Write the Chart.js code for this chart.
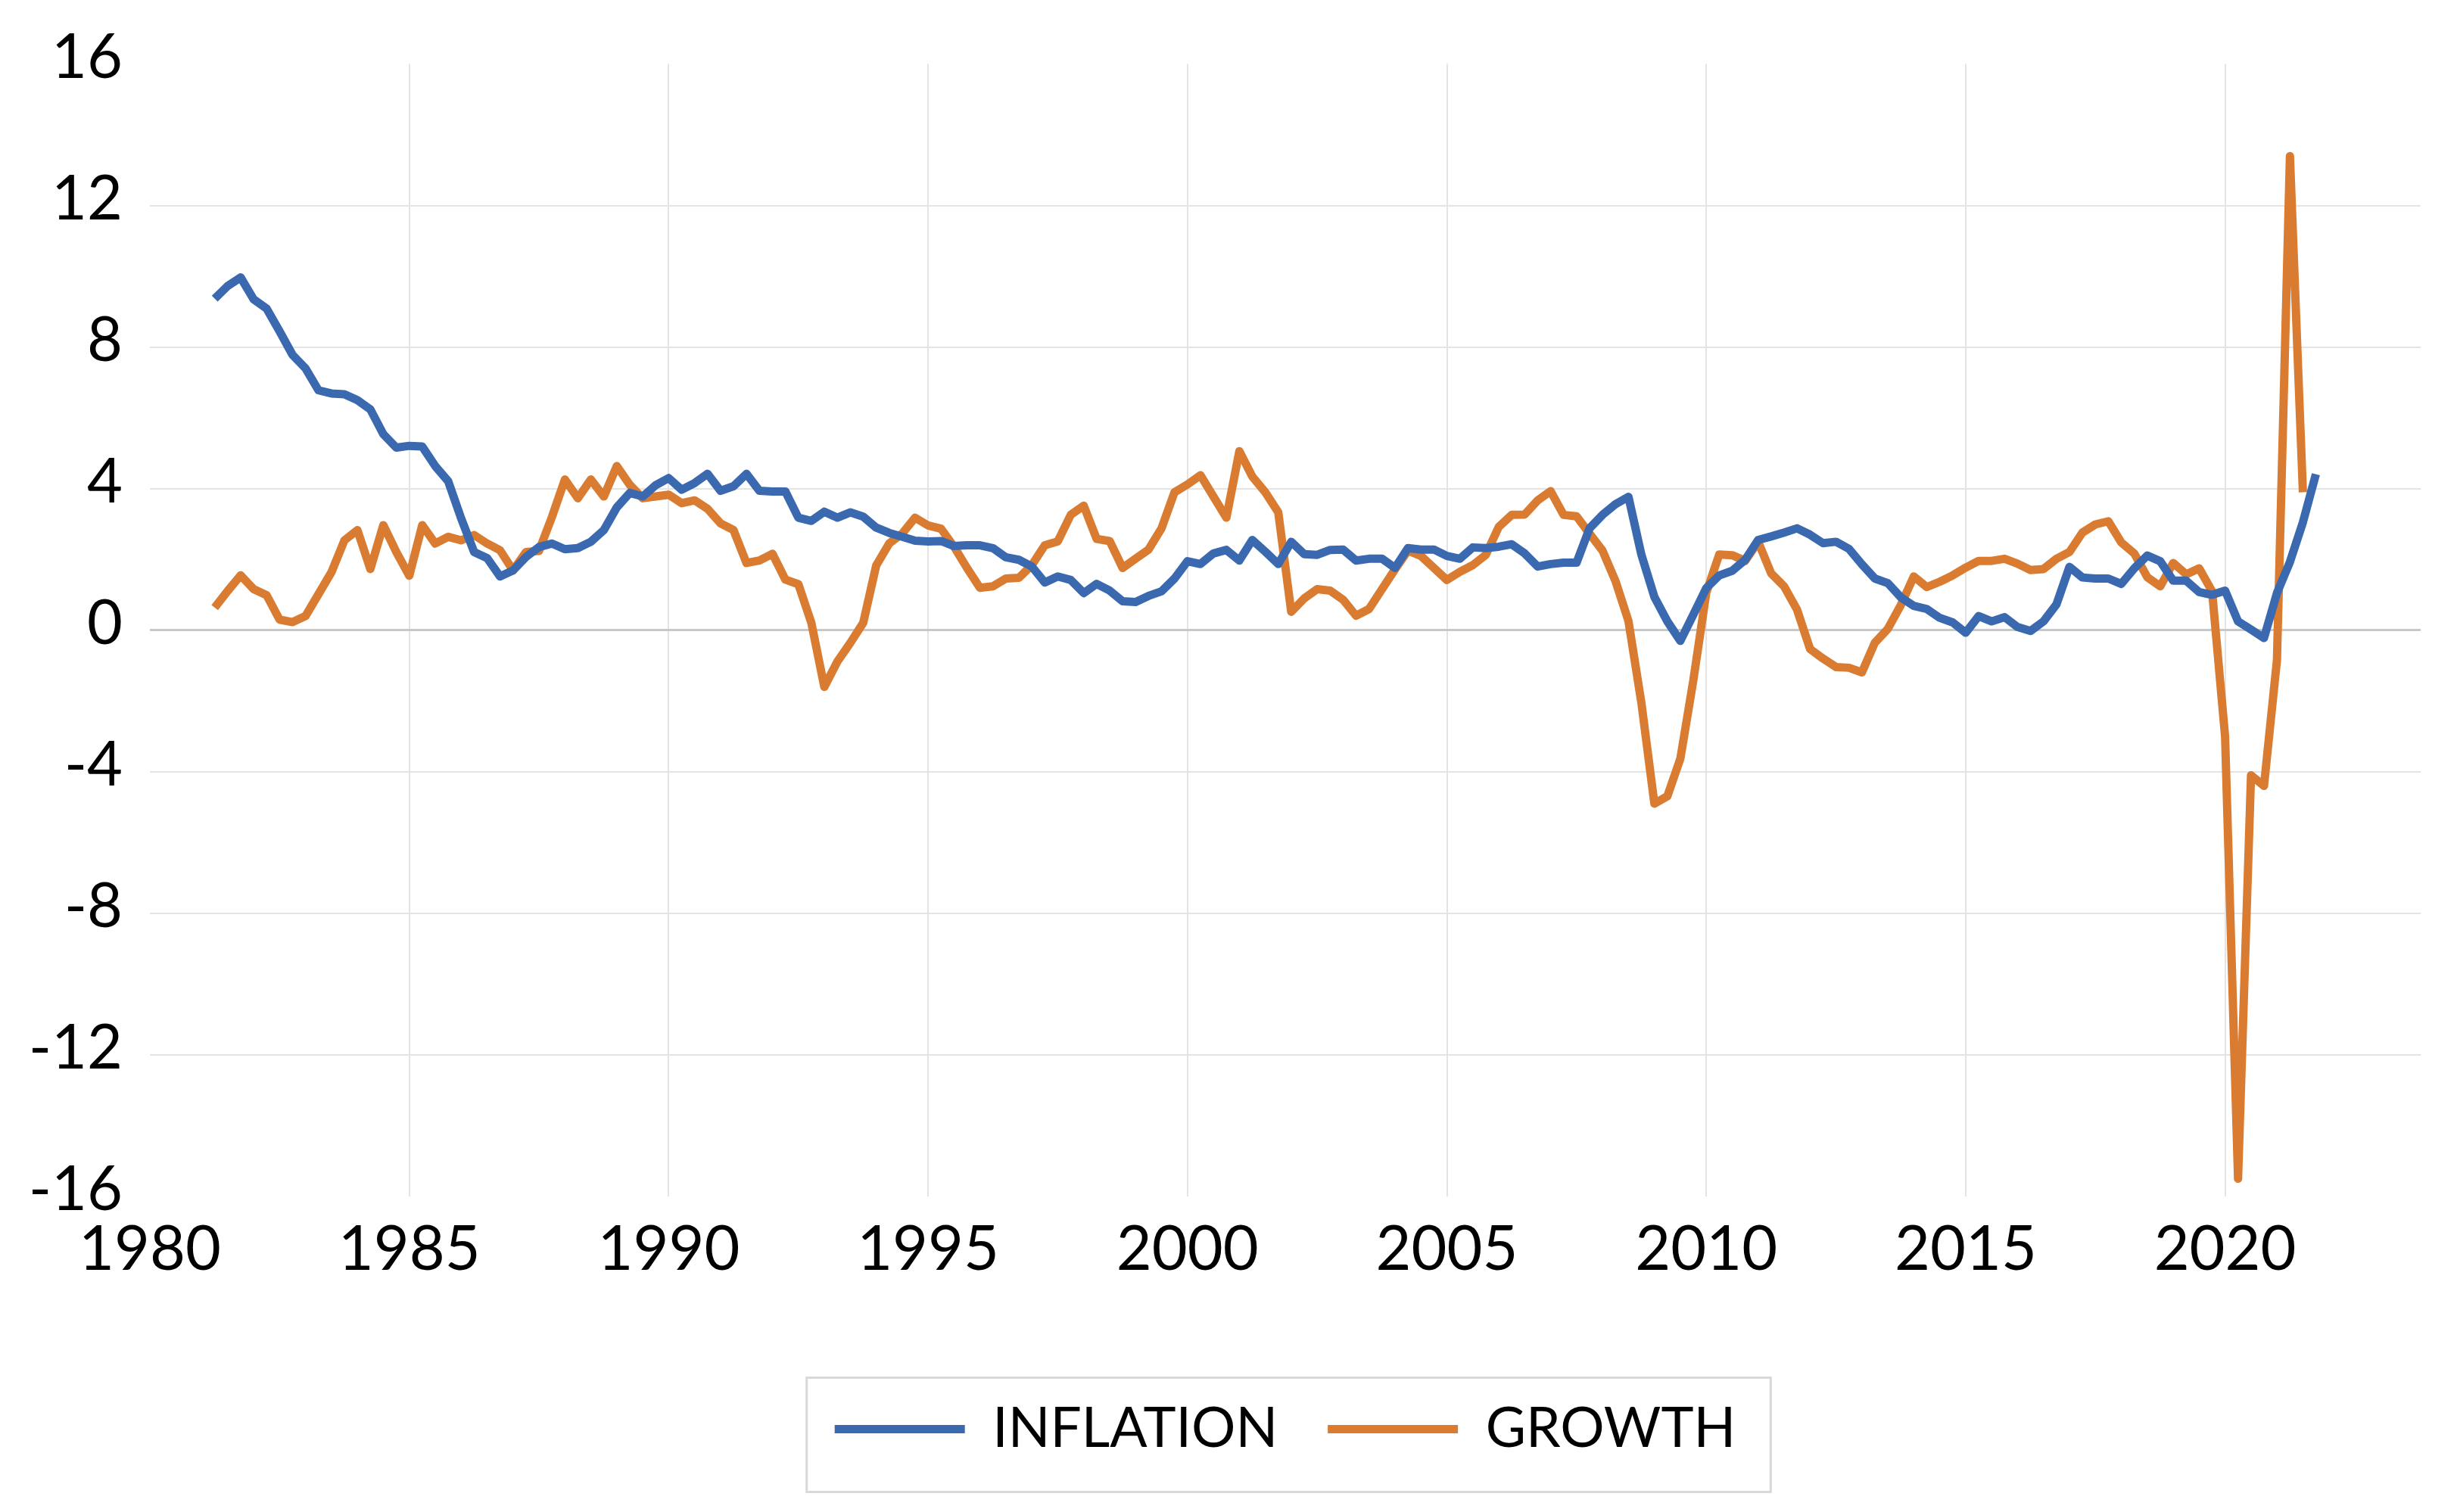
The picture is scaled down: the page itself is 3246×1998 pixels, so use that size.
<!DOCTYPE html>
<html>
<head>
<meta charset="utf-8">
<script src="https://cdn.jsdelivr.net/npm/chart.js@4.4.1/dist/chart.umd.min.js"></script>
<style>
  html, body { margin: 0; padding: 0; background: #fff; }
  #wrap { width: 3246px; height: 1998px; }
</style>
</head>
<body>
<div id="wrap"><canvas id="chart" width="3246" height="1998"></canvas></div>
<script>
// quarterly values, 1981Q1 onwards
const inflation = [
  9.37, 9.73, 9.97, 9.35,   // 1981
  9.09, 8.45, 7.78, 7.40,
  6.78, 6.69, 6.67, 6.50,
  6.24, 5.54, 5.16, 5.21,
  5.19, 4.64, 4.21, 3.16,   // 1985
  2.21, 2.04, 1.52, 1.69,
  2.07, 2.35, 2.45, 2.29,
  2.32, 2.50, 2.83, 3.47,
  3.88, 3.78, 4.10, 4.30,
  3.97, 4.16, 4.42, 3.94,   // 1990
  4.07, 4.42, 3.94, 3.92,
  3.92, 3.18, 3.09, 3.35,
  3.18, 3.33, 3.21, 2.90,
  2.75, 2.64, 2.53, 2.51,
  2.52, 2.38, 2.40, 2.40,   // 1995
  2.32, 2.06, 1.99, 1.80,
  1.35, 1.52, 1.42, 1.05,
  1.31, 1.12, 0.82, 0.80,
  0.97, 1.10, 1.46, 1.95,
  1.87, 2.17, 2.27, 1.97,   // 2000
  2.55, 2.22, 1.87, 2.50,
  2.15, 2.13, 2.27, 2.28,
  1.97, 2.02, 2.02, 1.76,
  2.32, 2.28, 2.28, 2.10,
  2.02, 2.34, 2.32, 2.36,   // 2005
  2.43, 2.17, 1.80, 1.87,
  1.91, 1.91, 2.88, 3.26,
  3.56, 3.77, 2.13, 0.94,
  0.25, -0.30, 0.44, 1.19,
  1.55, 1.68, 1.99, 2.55,   // 2010
  2.65, 2.76, 2.88, 2.70,
  2.46, 2.50, 2.30, 1.86,
  1.46, 1.33, 0.93, 0.69,
  0.60, 0.35, 0.22, -0.07,
  0.40, 0.25, 0.37, 0.09,   // 2015
  -0.02, 0.25, 0.73, 1.79,
  1.49, 1.46, 1.46, 1.31,
  1.75, 2.11, 1.95, 1.40,
  1.40, 1.08, 1.00, 1.12,
  0.25, 0.02, -0.22, 1.05,  // 2020
  1.93, 3.05, 4.41
];
const growth = [
  0.64, 1.11, 1.55, 1.16,   // 1981
  0.99, 0.30, 0.23, 0.40,
  1.02, 1.64, 2.54, 2.83,
  1.73, 2.97, 2.21, 1.54,
  2.97, 2.45, 2.64, 2.54,   // 1985
  2.69, 2.45, 2.26, 1.69,
  2.21, 2.24, 3.20, 4.26,
  3.73, 4.26, 3.78, 4.64,
  4.11, 3.73, 3.78, 3.83,
  3.59, 3.67, 3.43, 3.02,   // 1990
  2.83, 1.90, 1.97, 2.16,
  1.43, 1.30, 0.21, -1.60,
  -0.89, -0.36, 0.21, 1.83,
  2.45, 2.73, 3.18, 2.96,
  2.87, 2.36, 1.76, 1.20,   // 1995
  1.24, 1.46, 1.48, 1.84,
  2.40, 2.51, 3.26, 3.52,
  2.58, 2.52, 1.76, 2.02,
  2.28, 2.88, 3.90, 4.12,
  4.38, 3.78, 3.18, 5.06,   // 2000
  4.34, 3.90, 3.33, 0.52,
  0.90, 1.16, 1.12, 0.86,
  0.41, 0.60, 1.16, 1.72,
  2.25, 2.10, 1.76, 1.42,
  1.65, 1.84, 2.13, 2.92,   // 2005
  3.26, 3.27, 3.67, 3.93,
  3.26, 3.22, 2.73, 2.25,
  1.39, 0.26, -2.06, -4.90,
  -4.69, -3.63, -1.42, 1.06,
  2.14, 2.12, 1.96, 2.50,   // 2010
  1.61, 1.24, 0.58, -0.53,
  -0.80, -1.04, -1.06, -1.19,
  -0.35, 0.04, 0.71, 1.52,
  1.22, 1.37, 1.55, 1.77,
  1.96, 1.96, 2.02, 1.88,   // 2015
  1.70, 1.73, 2.02, 2.21,
  2.76, 2.99, 3.08, 2.48,
  2.17, 1.50, 1.24, 1.90,
  1.58, 1.75, 1.10, -3.00,
  -15.5, -4.10, -4.40, -0.84, // 2020
  13.4, 3.90
];

// quarter end positions on the year axis (1981Q1 -> 1981.25)
const quarters = [];
for (let y = 1981; y <= 2021; y++) {
  for (let q = 1; q <= 4; q++) quarters.push(y + q / 4);
}

const xTicks = [1980, 1985, 1990, 1995, 2000, 2005, 2010, 2015, 2020];
const yTicks = [-16, -12, -8, -4, 0, 4, 8, 12, 16];

const BLUE = "#3A69B0";
const ORANGE = "#D97B31";
const FONT = "Lato";

const toPoints = (vals) => vals.map((v, i) => ({ x: quarters[i], y: v }));

// Excel-style border round the legend
const legendFrame = {
  id: "legendFrame",
  afterDraw(chart) {
    const hb = chart.legend && chart.legend.legendHitBoxes;
    if (!hb || !hb.length) return;
    const left = hb[0].left;
    const last = hb[hb.length - 1];
    const right = last.left + last.width;
    const cy = hb[0].top + hb[0].height / 2;
    const ctx = chart.ctx;
    ctx.save();
    ctx.strokeStyle = "#d9d9d9";
    ctx.lineWidth = 3;
    ctx.strokeRect(left - 37, cy - 68, right - left + 37 + 46, 151);
    ctx.restore();
  },
};

function draw() {
  new Chart(document.getElementById("chart"), {
    type: "line",
    data: {
      datasets: [
        {
          label: "INFLATION",
          data: toPoints(inflation),
          borderColor: BLUE,
          backgroundColor: BLUE,
          borderWidth: 11,
          pointRadius: 0,
          borderJoinStyle: "round",
          tension: 0,
        },
        {
          label: "GROWTH",
          data: toPoints(growth),
          borderColor: ORANGE,
          backgroundColor: ORANGE,
          borderWidth: 11,
          pointRadius: 0,
          borderJoinStyle: "round",
          tension: 0,
        },
      ],
    },
    options: {
      responsive: false,
      devicePixelRatio: 1,
      animation: false,
      layout: { padding: { left: 0, right: 48, top: 76, bottom: 63 } },
      plugins: {
        tooltip: { enabled: false },
        legend: {
          position: "bottom",
          fullSize: false,
          labels: {
            color: "#000",
            font: { family: FONT, size: 73 },
            boxWidth: 172,
            boxHeight: 11,
            padding: 66,
            generateLabels: (chart) =>
              chart.data.datasets.map((ds, i) => ({
                text: ds.label,
                fillStyle: ds.borderColor,
                strokeStyle: ds.borderColor,
                lineWidth: 0,
                datasetIndex: i,
              })),
          },
        },
      },
      scales: {
        x: {
          type: "linear",
          min: 1980,
          max: 2023.77,
          afterBuildTicks: (s) => { s.ticks = xTicks.map((v) => ({ value: v })); },
          afterFit: (s) => { s.height = 205; },
          border: { display: false },
          grid: {
            drawTicks: false,
            lineWidth: 2,
            color: (c) => (c.tick && c.tick.value === 1980 ? "rgba(0,0,0,0)" : "#e4e4e4"),
          },
          ticks: {
            color: "#000",
            font: { family: FONT, size: 81 },
            padding: 22,
            maxRotation: 0,
            callback: (v) => String(v),
          },
        },
        y: {
          min: -16,
          max: 16,
          afterBuildTicks: (s) => { s.ticks = yTicks.map((v) => ({ value: v })); },
          afterFit: (s) => { s.width = 198; },
          border: { display: false },
          grid: {
            drawTicks: false,
            lineWidth: (c) => (c.tick && c.tick.value === 0 ? 3 : 2),
            color: (c) => {
              const v = c.tick && c.tick.value;
              if (v === 16 || v === -16) return "rgba(0,0,0,0)";
              return v === 0 ? "#c8c8c8" : "#e4e4e4";
            },
          },
          ticks: {
            color: "#000",
            font: { family: FONT, size: 81 },
            padding: 36,
            labelOffset: -8,
            callback: (v) => String(v),
          },
        },
      },
    },
    plugins: [legendFrame],
  });
}

if (document.fonts && document.fonts.load) {
  Promise.all([document.fonts.load("81px Lato"), document.fonts.load("73px Lato")])
    .then(draw, draw);
} else {
  draw();
}
</script>
</body>
</html>
